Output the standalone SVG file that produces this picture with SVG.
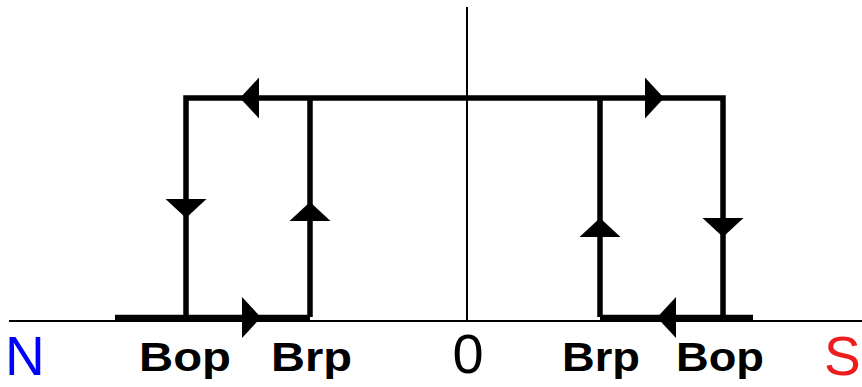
<svg xmlns="http://www.w3.org/2000/svg" width="862" height="387" viewBox="0 0 862 387">
  <style>
    .axis { stroke: #000; stroke-width: 2; fill: none; }
    .loop { stroke: #000; stroke-width: 5.5; fill: none; stroke-linejoin: miter; stroke-linecap: butt; }
    .head { fill: #000; }
    .lbl { font-family: "Liberation Sans", Arial, sans-serif; font-weight: bold; font-size: 41px; fill: #000; }
    .num { font-family: "Liberation Sans", Arial, sans-serif; font-size: 56px; fill: #000; }
    .pole { font-family: "Liberation Sans", Arial, sans-serif; font-size: 55px; }
  </style>
  <defs>
    <!-- arrowhead pointing right, tip at the origin -->
    <path id="ah" class="head" d="M0,0 L-19,-20.5 L-19,20.5 Z"/>
  </defs>

  <!-- field axis and zero line -->
  <g id="axes">
    <line class="axis" x1="9" y1="321" x2="862" y2="321"/>
    <line class="axis" x1="467" y1="7" x2="467" y2="321"/>
  </g>

  <!-- hysteresis loop -->
  <g id="connectors">
    <path class="loop" d="M186,317 V98 H723 V317"/>
    <line class="loop" x1="310" y1="98" x2="310" y2="317"/>
    <line class="loop" x1="600" y1="98" x2="600" y2="317"/>
    <line class="loop" x1="115" y1="317.5" x2="310" y2="317.5"/>
    <line class="loop" x1="600" y1="317.5" x2="753" y2="317.5"/>

    <use href="#ah" transform="translate(240,98) rotate(180)"/>
    <use href="#ah" transform="translate(664,98)"/>
    <use href="#ah" transform="translate(186,218) rotate(90)"/>
    <use href="#ah" transform="translate(310,202) rotate(-90)"/>
    <use href="#ah" transform="translate(600,218) rotate(-90)"/>
    <use href="#ah" transform="translate(723,237) rotate(90)"/>
    <use href="#ah" transform="translate(261,317.5)"/>
    <use href="#ah" transform="translate(657,317.5) rotate(180)"/>
  </g>

  <!-- threshold labels -->
  <g id="labels">
    <text class="lbl" x="139" y="371" textLength="92" lengthAdjust="spacingAndGlyphs">Bop</text>
    <text class="lbl" x="271" y="371" textLength="81" lengthAdjust="spacingAndGlyphs">Brp</text>
    <text class="num" x="468" y="373" text-anchor="middle">0</text>
    <text class="lbl" x="562" y="371" textLength="78" lengthAdjust="spacingAndGlyphs">Brp</text>
    <text class="lbl" x="676" y="371" textLength="88" lengthAdjust="spacingAndGlyphs">Bop</text>
    <text class="pole" x="5" y="375" fill="#0000ff">N</text>
    <text class="pole" x="824" y="375" fill="#ee1c1c">S</text>
  </g>
</svg>
